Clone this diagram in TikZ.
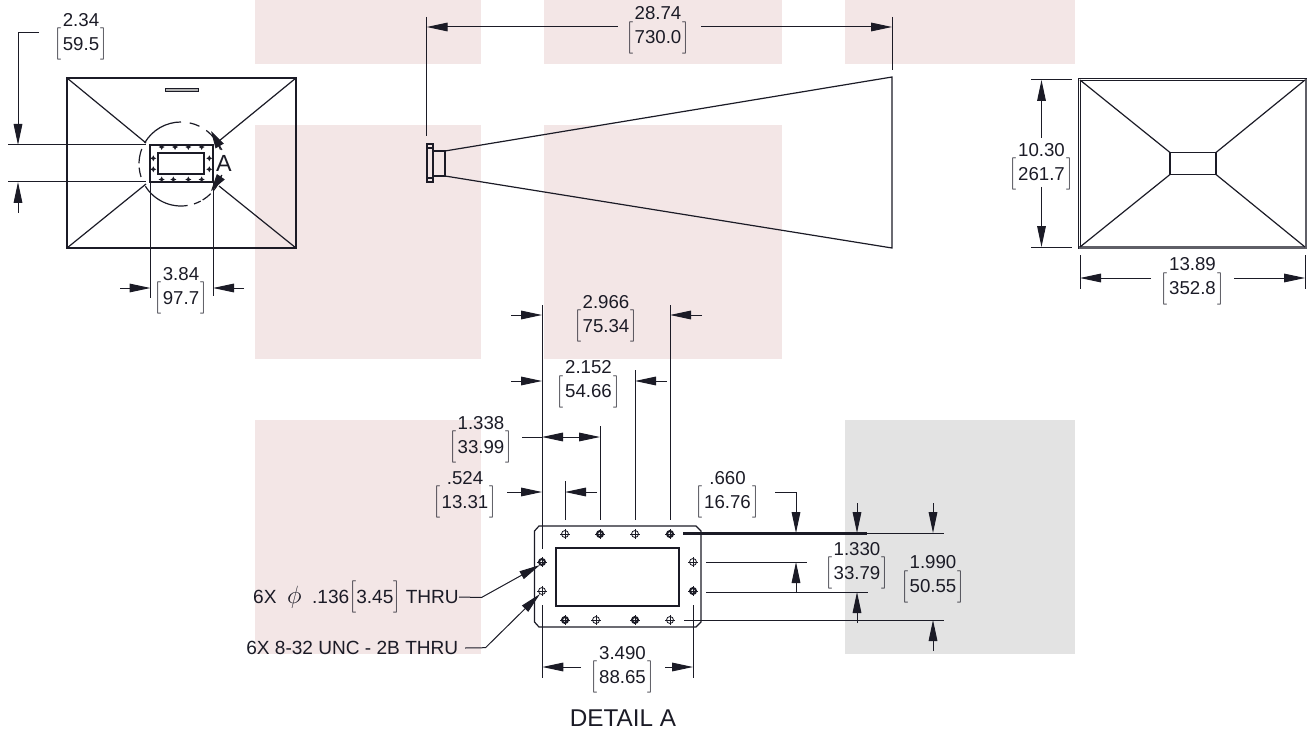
\documentclass[tikz,border=0pt]{standalone}
\usepackage{fontspec}
\setmainfont{Liberation Sans}
\usepackage{tikz}
\usetikzlibrary{arrows.meta,calc}
\definecolor{inkline}{HTML}{1B1B26}
\definecolor{blockpink}{HTML}{F3E6E6}
\definecolor{blockgray}{HTML}{E3E3E3}
\tikzset{
  dimline/.style={draw=inkline,line width=0.75pt,-{Triangle[length=15.75pt,width=6.5pt]}},
  cutarrow/.style={draw=inkline,line width=0.75pt,-{Triangle[length=13pt,width=7pt]}},
  extline/.style={draw=inkline,line width=0.75pt},
  partline/.style={draw=inkline,line width=0.9pt},
  dimtext/.style={text=inkline,align=center,inner sep=0pt,font=\fontsize{14}{18}\selectfont},
  calltext/.style={text=inkline,inner sep=0pt,font=\fontsize{14.3}{18}\selectfont},
  holeopen/.style={draw=inkline,line width=0.6pt},
  holedark/.style={draw=inkline,line width=1.5pt},
}
\newcommand{\brk}[1]{\smash{\raisebox{1pt}{$\bigg#1$}}}
\newcommand{\twodim}[2]{#1\\\brk[\kern1pt#2\kern1pt\brk]}
\begin{document}
\begin{tikzpicture}[x=0.75pt,y=-0.75pt]
\useasboundingbox (0,0) rectangle (1310,731);
% background blocks
\fill[blockpink] (255,0) rectangle (481,64);
\fill[blockpink] (544,0) rectangle (782,64);
\fill[blockpink] (845,0) rectangle (1075,64);
\fill[blockpink] (255,125) rectangle (481,359);
\fill[blockpink] (544,125) rectangle (782,359);
\fill[blockpink] (255,420) rectangle (481,654);
\fill[blockgray] (845,420) rectangle (1075,654);
% front view
\coordinate (circ) at (181,164);
\draw[partline] (67,78) rectangle (296,248);
\draw[partline] (150,145) rectangle (213,182);
\draw[partline] (158,153) rectangle (204,174);
\draw[partline] (67,78) -- (146,143);
\draw[partline] (296,78) -- (219,141);
\draw[partline] (67,248) -- (146,184);
\draw[partline] (296,248) -- (219,186);
\draw[draw=inkline,fill=gray!60,line width=0.6pt] (165,88) rectangle (198,91);
\foreach \a/\b in {210/270,282/296,307/340,16/40,45/59,62/72,81/148,162/175,181/201}
  \draw[partline] ($(circ)+(\a:42)$) arc (\a:\b:42);
\foreach \x/\y in {161.7/147,175/147,188.3/147,201.7/147,161.7/179.5,173.3/179.5,188.3/179.5,201.7/179.5,153.3/158.3,153.3/169.3,209.3/158.3,209.3/169.3}
  \fill[inkline] (\x,\y-3) -- (\x+1,\y-1) -- (\x+3,\y) -- (\x+1,\y+1) -- (\x,\y+3) -- (\x-1,\y+1) -- (\x-3,\y) -- (\x-1,\y-1) -- cycle;
\draw[cutarrow] (222,150) -- (211,131);
\draw[cutarrow] (222,175) -- (211,191);
\node[dimtext,font=\fontsize{17.5}{18}\selectfont] (cutA) at (224,163) {A};
% horn side view
\draw[partline] (427,144) rectangle (433,182);
\draw[partline] (427,148) -- (433,148);
\draw[partline] (427,178) -- (433,178);
\draw[partline] (433,151) -- (445,151) -- (445,176) -- (433,176);
\draw[partline] (445,151) -- (892,77) -- (892,248) -- (445,176);
% rear view
\draw[partline] (1078.5,78.5) rectangle (1306.5,248);
\draw[partline] (1080.5,80.5) -- (1305,80.5);
\draw[partline] (1080.5,80.5) -- (1080.5,246.5);
\draw[draw=inkline!70,line width=1.8pt] (1306,79) -- (1306,247.5) -- (1079,247.5);
\draw[partline] (1170,152.5) rectangle (1216,174.5);
\draw[partline] (1080,80) -- (1170,152.5);
\draw[partline] (1305,80) -- (1216,152.5);
\draw[partline] (1080,247) -- (1170,174.5);
\draw[partline] (1305,247) -- (1216,174.5);
% detail A
\draw[partline] (539,526) -- (696,526) -- (701,531) -- (701,622) -- (696,627) -- (539,627) -- (534.5,622) -- (534.5,531) -- cycle;
\draw[partline] (556,548) rectangle (679,606);
\foreach \x/\y in {565/534,635/534,596/620,670/620,542/591,693/562}{
  \draw[holeopen] (\x,\y) circle (3.5);
  \draw[holeopen] (\x-5,\y) -- (\x+5,\y);
  \draw[holeopen] (\x,\y-5) -- (\x,\y+5);
}
\foreach \x/\y in {600/534,670/534,565/620,635/620,542/562,693/591}{
  \draw[holedark] (\x,\y) circle (3);
  \draw[holeopen] (\x-5,\y) -- (\x+5,\y);
  \draw[holeopen] (\x,\y-5) -- (\x,\y+5);
}
% dimensions, front view
\draw[extline] (8,145) -- (146,145);
\draw[extline] (8,182) -- (146,182);
\draw[dimline] (39,33) -- (18,33) -- (18,145);
\draw[dimline] (18,213) -- (18,182);
\node[dimtext] (dimA) at (81,32) {\twodim{2.34}{59.5}};
\draw[extline] (150.5,182) -- (150.5,298);
\draw[extline] (213,182) -- (213,296);
\draw[dimline] (120,288) -- (150.5,288);
\draw[dimline] (244,288) -- (213,288);
\node[dimtext] (dimB) at (181,286) {\twodim{3.84}{97.7}};
% dimensions, horn
\draw[extline] (426.7,17) -- (426.7,136);
\draw[extline] (892,17) -- (892,70);
\draw[dimline] (617.5,27) -- (426.7,27);
\draw[dimline] (701,27) -- (892,27);
\node[dimtext] (dimC) at (658,25.5) {\twodim{28.74}{730.0}};
% dimensions, rear view
\draw[extline] (1031,79.5) -- (1072,79.5);
\draw[extline] (1031,247) -- (1072,247);
\draw[dimline] (1041.5,138) -- (1041.5,80);
\draw[dimline] (1041.5,187) -- (1041.5,247);
\node[dimtext] (dimD) at (1041.5,162) {\twodim{10.30}{261.7}};
\draw[extline] (1080,255) -- (1080,289);
\draw[extline] (1305,255) -- (1305,289);
\draw[dimline] (1151,278) -- (1080,278);
\draw[dimline] (1234,278) -- (1305,278);
\node[dimtext] (dimE) at (1192.5,276.5) {\twodim{13.89}{352.8}};
% dimensions, detail top
\draw[extline] (542,305) -- (542,549);
\draw[extline] (565,481) -- (565,520);
\draw[extline] (600,426) -- (600,520);
\draw[extline] (635,370) -- (635,520);
\draw[extline] (670,305) -- (670,520);
\draw[dimline] (511,315) -- (542,315);
\draw[dimline] (702,315) -- (670,315);
\node[dimtext] (dimF) at (606,314) {\twodim{2.966}{75.34}};
\draw[dimline] (511,381) -- (542,381);
\draw[dimline] (667,381) -- (635,381);
\node[dimtext] (dimG) at (588.5,379.5) {\twodim{2.152}{54.66}};
\draw[dimline,{Triangle[length=15.75pt,width=6.5pt]}-{Triangle[length=15.75pt,width=6.5pt]}] (542,437) -- (600,437);
\draw[extline] (522,437) -- (542,437);
\node[dimtext] (dimH) at (481,435) {\twodim{1.338}{33.99}};
\draw[dimline] (507,492) -- (542,492);
\draw[dimline] (597,492) -- (565,492);
\node[dimtext] (dimI) at (465,490) {\twodim{.524}{13.31}};
% dimensions, detail right
\draw[draw=inkline,line width=1.6pt] (683,533.5) -- (867,533.5);
\draw[extline] (867,533.5) -- (944,533.5);
\draw[extline] (706,562) -- (807,562);
\draw[extline] (706,592) -- (868,592);
\draw[extline] (684,620) -- (944,620);
\draw[dimline] (775,492) -- (796,492) -- (796,533);
\draw[dimline] (796,593) -- (796,562);
\node[dimtext] (dimJ) at (727.5,490) {\twodim{.660}{16.76}};
\draw[dimline] (857,503) -- (857,533);
\draw[dimline] (857,623) -- (857,592);
\node[dimtext] (dimK) at (857,561) {\twodim{1.330}{33.79}};
\draw[dimline] (933,503) -- (933,533);
\draw[dimline] (933,651) -- (933,620);
\node[dimtext] (dimL) at (933,574.5) {\twodim{1.990}{50.55}};
% dimensions, detail bottom
\draw[extline] (542.3,605) -- (542.3,678);
\draw[extline] (693,605) -- (693,678);
\draw[dimline] (581,667) -- (542.3,667);
\draw[dimline] (665,667) -- (693,667);
\node[dimtext] (dimM) at (622.5,665) {\twodim{3.490}{88.65}};
% callouts
\node[calltext,anchor=east] (callA) at (459,597) {6X\ \ \scalebox{1.3}{$\phi$}\ \ .136\brk[3.45\brk]\ THRU};
\node[calltext,anchor=east] (callB) at (458.5,648) {6X 8-32 UNC - 2B THRU};
\coordinate (kneeA) at (481.5,597.5);
\coordinate (kneeB) at (485.5,647.7);
\draw[dimline] (callA.east) -- (kneeA) -- (540,565);
\draw[dimline] ([xshift=5pt]callB.east) -- (kneeB) -- (540,594);
\node[dimtext,font=\fontsize{18.2}{20}\selectfont] (title) at (623,718) {DETAIL A};
\end{tikzpicture}
\end{document}
